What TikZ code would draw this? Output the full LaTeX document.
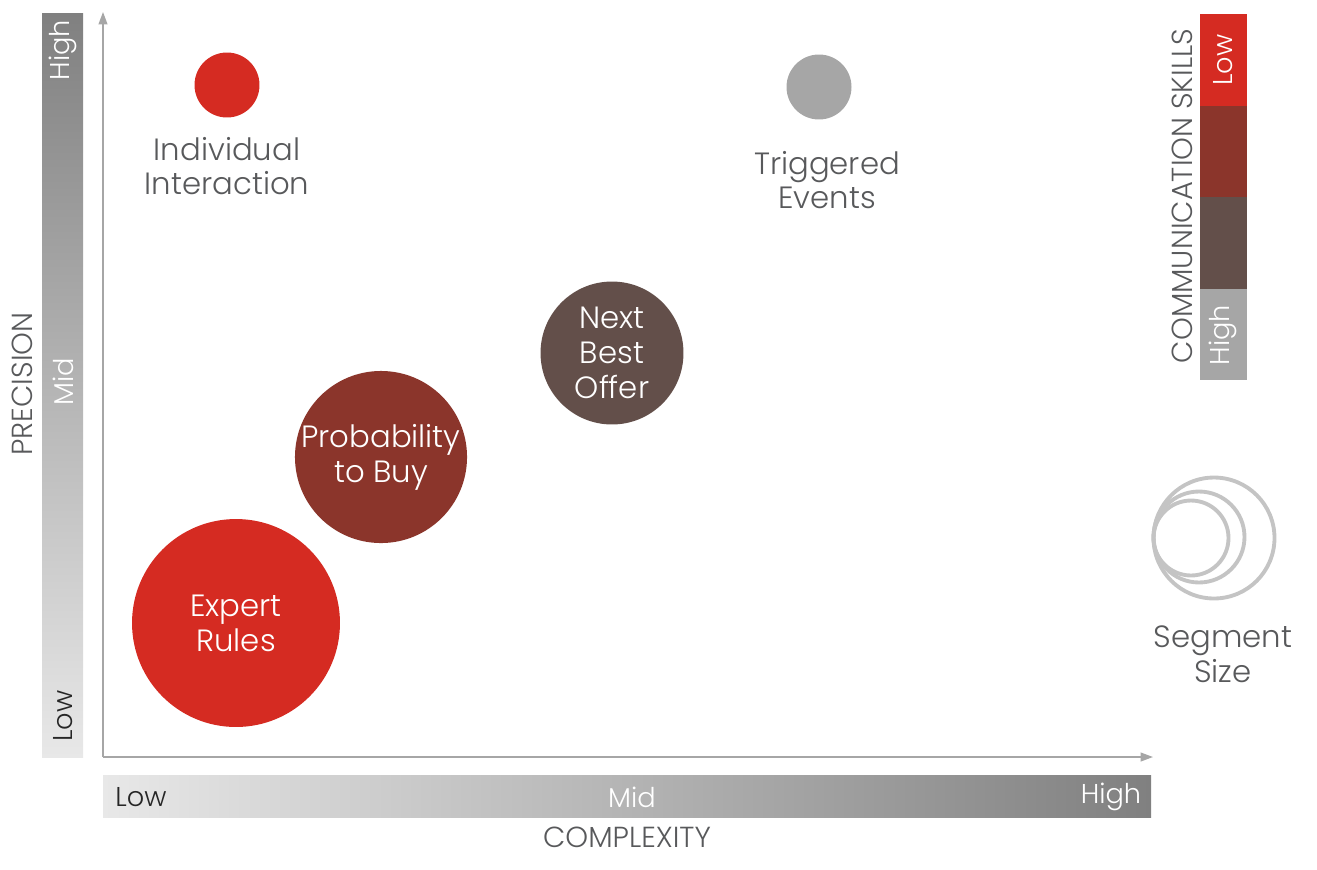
\documentclass[tikz,border=0pt]{standalone}
\usepackage{fontspec}
\setmainfont{Poppins Light}
\usetikzlibrary{arrows.meta,positioning}
\definecolor{axisgray}{HTML}{A6A6A6}
\definecolor{labelgray}{HTML}{58595B}
\definecolor{barlight}{HTML}{E8E8E8}
\definecolor{bardark}{HTML}{808080}
\definecolor{skillred}{HTML}{D52B22}
\definecolor{skillbrown}{HTML}{8B352B}
\definecolor{skilldark}{HTML}{634F4A}
\definecolor{skillgray}{HTML}{A6A6A6}
\definecolor{ringgray}{HTML}{C4C4C4}
\tikzset{
  bubble/.style={circle, inner sep=0pt, align=center, text=white,
    font=\fontsize{17.5}{19.8}\selectfont},
  caption/.style={align=center, text=labelgray,
    font=\fontsize{17.5}{19.8}\selectfont},
  ticklabel/.style={font=\fontsize{15.5}{17}\selectfont},
  axislabel/.style={text=labelgray, font=\fontsize{16.5}{18}\selectfont},
}
\begin{document}
\begin{tikzpicture}[x=0.02cm, y=-0.02cm]
  \useasboundingbox (0,0) rectangle (1317,869);
  % gradient bars
  \shade[top color=bardark, bottom color=barlight] (42,13) rectangle (83,757);
  \shade[left color=barlight, right color=bardark] (103,775) rectangle (1151,817);
  \node[ticklabel, rotate=90, text=white] (yhigh) at (63,50) {High};
  \node[ticklabel, rotate=90, text=white] (ymid) at (63,382) {Mid};
  \node[ticklabel, rotate=90, text=black!85] (ylow) at (63,716) {Low};
  \node[ticklabel, text=black!85] (xlow) at (141,797) {Low};
  \node[ticklabel, text=white] (xmid) at (632,797) {Mid};
  \node[ticklabel, text=white] (xhigh) at (1111,797) {High};
  \node[axislabel, rotate=90] (precision) at (22,384) {PRECISION};
  \node[axislabel] (complexity) at (627,837) {COMPLEXITY};
  % axes
  \coordinate (origin) at (103,757);
  \coordinate (ytip) at (103,12);
  \coordinate (xtip) at (1153,757);
  \draw[axisgray, thick, -{Triangle[length=7pt, width=5pt]}] (origin) -- (ytip);
  \draw[axisgray, thick, -{Triangle[length=7pt, width=5pt]}] (origin) -- (xtip);
  % bubbles
  \node[bubble, fill=skillred, minimum size=1.30cm] (indiv) at (227,85) {};
  \node[caption] (indivtext) at (227,166) {Individual\\Interaction};
  \node[bubble, fill=skillgray, minimum size=1.30cm] (trigger) at (819,87) {};
  \node[caption] (triggertext) at (827,180) {Triggered\\Events};
  \node[bubble, fill=skilldark, minimum size=2.86cm] (nbo) at (612,353) {Next\\Best\\Offer};
  \node[bubble, fill=skillbrown, minimum size=3.44cm] (prob) at (381,457) {Probability\\to Buy};
  \node[bubble, fill=skillred, minimum size=4.16cm] (expert) at (236,623) {Expert\\Rules};
  % communication skills legend
  \foreach[count=\i] \c in {skillred,skillbrown,skilldark,skillgray}{
    \fill[\c] (1200,{14+91.5*(\i-1)}) rectangle (1247,{14+91.5*\i});
  }
  \node[ticklabel, rotate=90, text=white] (skilllow) at (1223,60) {Low};
  \node[ticklabel, rotate=90, text=white] (skillhigh) at (1223,335) {High};
  \node[axislabel, rotate=90] (skills) at (1182,196) {COMMUNICATION SKILLS};
  % segment size legend
  \draw[ringgray, line width=2.2pt] (1214,538) circle (1.21cm);
  \draw[ringgray, line width=2.2pt] (1199,537) circle (0.91cm);
  \draw[ringgray, line width=2.2pt] (1191,538) circle (0.75cm);
  \node[caption] (segtext) at (1223,654) {Segment\\Size};
\end{tikzpicture}
\end{document}
